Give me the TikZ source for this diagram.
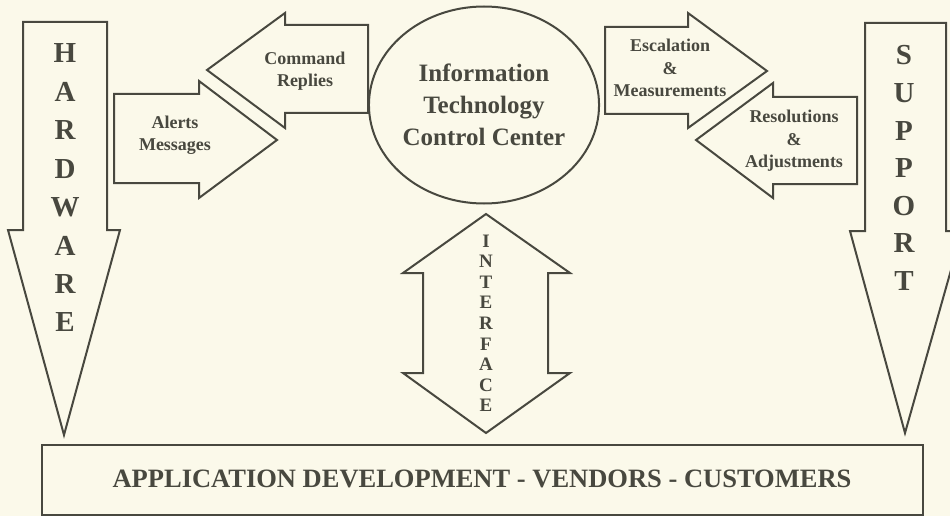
\documentclass[tikz,border=0pt]{standalone}
\usepackage{fontspec}
\setmainfont{Liberation Serif}
\usetikzlibrary{shapes.geometric}
\definecolor{paper}{HTML}{FBF9EA}
\definecolor{ink}{HTML}{48483F}
\begin{document}
\begin{tikzpicture}[x=1pt,y=-1pt]
    \tikzstyle{blockarrow}=[draw=ink, line width=2pt, line join=miter, fill=paper]
    \tikzstyle{bigletter}=[text=ink, anchor=base, inner sep=0pt, font=\fontsize{29}{30}\selectfont\bfseries]
    \tikzstyle{smallletter}=[text=ink, anchor=base, inner sep=0pt, font=\fontsize{19}{20}\selectfont\bfseries]
    \tikzstyle{arrowtext}=[text=ink, align=center, inner sep=0pt, font=\fontsize{18}{22.5}\selectfont\bfseries]
    \useasboundingbox[fill=paper] (0,0) rectangle (950,516);
    % down arrows at the sides
    \draw[blockarrow] (23,22) -- (107,22) -- (107,230) -- (120,230) -- (64,435) -- (8,230) -- (23,230) -- cycle;
    \draw[blockarrow] (865,23) -- (946,23) -- (946,231) -- (962,231) -- (905,433) -- (850,231) -- (865,231) -- cycle;
    \foreach \l [count=\i from 0] in {H,A,R,D,W,A,R,E}
      \node[bigletter] (hw\i) at (65,{63+38.4*\i}) {\l};
    \foreach \l [count=\i from 0] in {S,U,P,P,O,R,T}
      \node[bigletter] (sp\i) at (904,{65+37.5*\i}) {\l};
    % message arrows
    \draw[blockarrow] (207,70) -- (285,13) -- (285,25) -- (368,25) -- (368,113) -- (285,113) -- (285,128) -- cycle;
    \draw[blockarrow] (114,94) -- (199,94) -- (199,81) -- (277,140) -- (199,198) -- (199,183) -- (114,183) -- cycle;
    \draw[blockarrow] (605,27) -- (688,27) -- (688,13) -- (767,71) -- (688,128) -- (688,114) -- (605,114) -- cycle;
    \draw[blockarrow] (696,140) -- (773,83) -- (773,97) -- (857,97) -- (857,184) -- (773,184) -- (773,198) -- cycle;
    \node[arrowtext] (cmd) at (305,71) {Command\\Replies};
    \node[arrowtext] (alrt) at (175,135) {Alerts\\Messages};
    \node[arrowtext] (esc) at (670,68) {Escalation\\\&\\Measurements};
    \node[arrowtext] (res) at (794,141) {Resolutions\\\&\\Adjustments};
    % control center
    \node[ellipse, draw=ink, line width=2pt, minimum width=216pt, minimum height=197pt, inner sep=0pt,
      text=ink, align=center, font=\fontsize{25}{32}\selectfont\bfseries] (itcc) at (484,105)
      {Information\\Technology\\Control Center};
    % interface
    \draw[blockarrow] (486,214) -- (570,273) -- (548,273) -- (548,373) -- (570,373) -- (486,433)
      -- (403,373) -- (423,373) -- (423,273) -- (403,273) -- cycle;
    \foreach \l [count=\i from 0] in {I,N,T,E,R,F,A,C,E}
      \node[smallletter] (if\i) at (486,{247+20.6*\i}) {\l};
    % bottom
    \draw[draw=ink, line width=2pt] (42,445) rectangle (923,515);
    \node[text=ink, anchor=base, inner sep=0pt, font=\fontsize{26.5}{30}\selectfont\bfseries] (app) at (482,487)
      {APPLICATION DEVELOPMENT - VENDORS - CUSTOMERS};
\end{tikzpicture}
\end{document}
